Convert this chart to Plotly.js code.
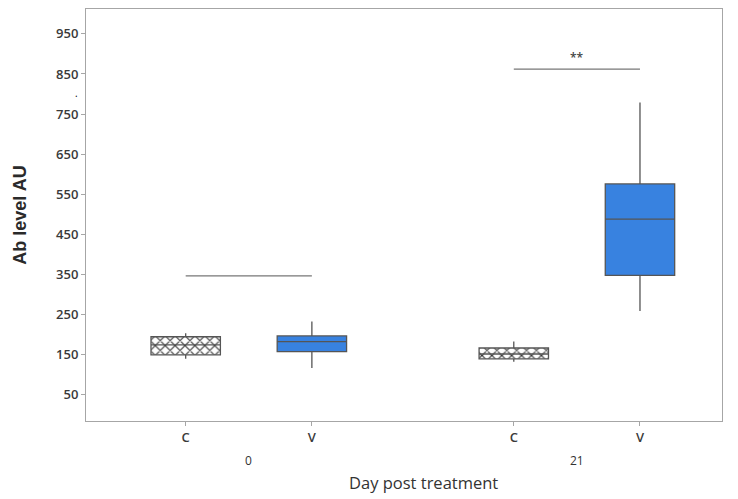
<!DOCTYPE html>
<html>
<head>
<meta charset="utf-8">
<script src="https://cdn.plot.ly/plotly-3.0.1.min.js"></script>
<style>html,body{margin:0;padding:0;background:#fff;}#chart{width:738px;height:499px;}</style>
</head>
<body>
<div id="chart"></div>
<script>
// ---- data ----
const days = ["0", "0", "21", "21"];
const treatments = ["C", "V", "C", "V"];
const lowerFence = [140, 117, 133, 259];
const q1 = [150, 158, 140, 348];
const median = [175, 183, 152, 488];
const q3 = [195, 197, 167, 576];
const upperFence = [204, 233, 183, 779];
const sigLevel = [347, 862];
const sigText = ["", "**"];
const dayGroups = ["0", "21"];
const yTicks = [50, 150, 250, 350, 450, 550, 650, 750, 850, 950];

// ---- layout helpers ----
const groupGap = 2.6;
const groupIdx = days.map(d => dayGroups.indexOf(d));
const pos = treatments.map((t, i) => groupIdx[i] * groupGap + (t === "V" ? 1 : 0));
const boxW = 0.55;
const blue = "#3882e0";
const lineCol = "#555555";
const tickFont = {family: "Open Sans", size: 13, color: "#3a3a3a", weight: 600};

const traces = [];
// hatched fill for control boxes (bars below the box outline)
const cIdx = treatments.map((t, i) => t === "C" ? i : -1).filter(i => i >= 0);
traces.push({
  type: "bar",
  x: cIdx.map(i => pos[i]),
  y: cIdx.map(i => q3[i] - q1[i]),
  base: cIdx.map(i => q1[i]),
  width: boxW,
  marker: {color: "white", line: {width: 0},
           pattern: {shape: "x", fgcolor: "#333", bgcolor: "white", size: 7, solidity: 0.3}},
  hoverinfo: "skip", showlegend: false
});
// boxes
treatments.forEach((t, i) => {
  traces.push({
    type: "box",
    x: [pos[i]],
    q1: [q1[i]], median: [median[i]], q3: [q3[i]],
    lowerfence: [lowerFence[i]], upperfence: [upperFence[i]],
    width: boxW,
    fillcolor: t === "C" ? "rgba(0,0,0,0)" : blue,
    line: {color: lineCol, width: 1.3},
    whiskerwidth: 0,
    showlegend: false
  });
});
// significance bars
dayGroups.forEach((d, g) => {
  const xs = [g * groupGap, g * groupGap + 1];
  traces.push({
    type: "scatter", mode: "lines",
    x: xs, y: [sigLevel[g], sigLevel[g]],
    line: {color: "#777", width: 1.2},
    hoverinfo: "skip", showlegend: false
  });
});

const annotations = [];
dayGroups.forEach((d, g) => {
  annotations.push({
    x: g * groupGap + 0.5, y: -0.097, xref: "x", yref: "paper",
    text: d, showarrow: false, yanchor: "middle",
    font: {family: "Open Sans", size: 12, color: "#333"}
  });
  if (sigText[g]) {
    annotations.push({
      x: g * groupGap + 0.5, y: sigLevel[g], xref: "x", yref: "y",
      text: sigText[g], showarrow: false, yanchor: "bottom", yshift: 1,
      font: {family: "Open Sans", size: 12, color: "#444", weight: 600}
    });
  }
});
annotations.push({
  x: 0.53, y: -0.15, xref: "paper", yref: "paper",
  text: "Day post treatment", showarrow: false, yanchor: "middle",
  font: {family: "Open Sans", size: 16.5, color: "#333"}
});
annotations.push({
  x: -0.021, y: 0.775, xref: "paper", yref: "paper",
  text: ".", showarrow: false, yanchor: "bottom",
  font: {family: "Open Sans", size: 10, color: "#000"}
});

const layout = {
  width: 738, height: 499,
  margin: {l: 86, r: 16, t: 9, b: 78},
  paper_bgcolor: "white", plot_bgcolor: "white",
  showlegend: false,
  xaxis: {
    range: [-0.79, 4.25],
    tickmode: "array", tickvals: pos, ticktext: treatments,
    showgrid: false, zeroline: false,
    showline: true, mirror: true, linecolor: "#a6a6a6", linewidth: 1,
    ticks: "outside", ticklen: 4, tickcolor: "#a6a6a6",
    tickfont: tickFont
  },
  yaxis: {
    range: [-15, 1012],
    tickmode: "array", tickvals: yTicks,
    showgrid: false, zeroline: false,
    showline: true, mirror: true, linecolor: "#a6a6a6", linewidth: 1,
    ticks: "outside", ticklen: 4, tickcolor: "#a6a6a6",
    tickfont: tickFont,
    title: {text: "Ab level AU", standoff: 24,
            font: {family: "Liberation Sans", size: 18, color: "#2a2a2a", weight: "bold"}}
  },
  annotations: annotations
};

Plotly.newPlot("chart", traces, layout, {staticPlot: true, displayModeBar: false});
</script>
</body>
</html>
